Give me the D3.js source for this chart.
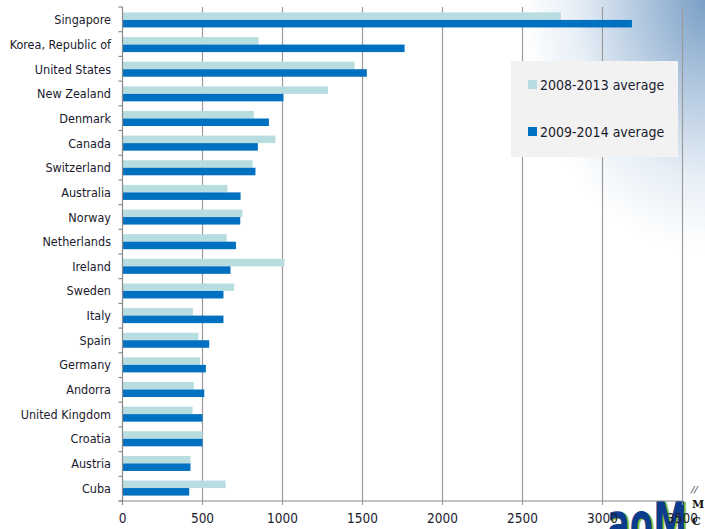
<!DOCTYPE html>
<html>
<head>
<meta charset="utf-8">
<script src="https://cdn.jsdelivr.net/npm/d3@7"></script>
<style>
  html, body { margin: 0; padding: 0; background: #fff; }
  svg { display: block; }
</style>
</head>
<body>
<svg id="chart" width="705" height="529"></svg>
<script>
const countries = ["Singapore","Korea, Republic of","United States","New Zealand","Denmark","Canada","Switzerland","Australia","Norway","Netherlands","Ireland","Sweden","Italy","Spain","Germany","Andorra","United Kingdom","Croatia","Austria","Cuba"];
const avg2008_2013 = [2740, 850, 1450, 1284, 821, 956, 813, 656, 750, 652, 1013, 698, 440, 475, 486, 446, 438, 500, 425, 644];
const avg2009_2014 = [3184, 1763, 1527, 1006, 915, 846, 831, 738, 736, 709, 675, 631, 631, 542, 521, 511, 500, 500, 425, 417];
const seriesNames = ["2008-2013 average", "2009-2014 average"];
const xTicks = [0, 500, 1000, 1500, 2000, 2500, 3000, 3500];

(function () {
const colors = ["#B7DDE1", "#0070C0"];
const svg = d3.select("#chart");
const W = 705, H = 529;
const pLeft = 122.5, pRight = 682.5, pTop = 7, pBottom = 501;

// background gradient (slide style)
const defs = svg.append("defs");
const rg = defs.append("radialGradient").attr("id", "bg")
  .attr("cx", 1).attr("cy", 0).attr("r", 1).attr("fx", 1).attr("fy", 0);
rg.append("stop").attr("offset", "0%").attr("stop-color", "#7A9FC6");
rg.append("stop").attr("offset", "20%").attr("stop-color", "#AFC6DE");
rg.append("stop").attr("offset", "42%").attr("stop-color", "#E6EEF6");
rg.append("stop").attr("offset", "60%").attr("stop-color", "#FFFFFF");
rg.append("stop").attr("offset", "100%").attr("stop-color", "#FFFFFF");
svg.append("rect").attr("width", W).attr("height", H).attr("fill", "#fff");
svg.append("rect").attr("x", 400).attr("y", 0).attr("width", 305).attr("height", 420).attr("fill", "url(#bg)");

// partial logo at bottom right (drawn behind the chart)
const logo = svg.append("g");
const big = logo.append("g").attr("transform", "translate(0,0)");
big.append("text").attr("x", 0).attr("y", 0)
  .attr("transform", "translate(689,545) scale(0.85,1.45)")
  .attr("text-anchor", "end")
  .attr("font-family", "DejaVu Sans, sans-serif").attr("font-weight", "bold")
  .attr("font-size", 40).attr("fill", "#9DC43A").text("aoM");
big.append("text").attr("x", 0).attr("y", 0)
  .attr("transform", "translate(687,544) scale(0.85,1.45)")
  .attr("text-anchor", "end")
  .attr("font-family", "DejaVu Sans, sans-serif").attr("font-weight", "bold")
  .attr("font-size", 40).attr("fill", "#0B3C8E").text("aoM");
logo.append("text").attr("x", 691).attr("y", 493).attr("font-family", "DejaVu Serif, serif")
  .attr("font-style", "italic").attr("font-size", 10).attr("fill", "#333").text("//");
logo.append("text").attr("x", 692).attr("y", 508).attr("font-family", "DejaVu Serif, serif")
  .attr("font-weight", "bold").attr("font-size", 11).attr("fill", "#111").text("M");
logo.append("text").attr("x", 692).attr("y", 525).attr("font-family", "DejaVu Serif, serif")
  .attr("font-weight", "bold").attr("font-size", 11).attr("fill", "#111").text("C");

const x = d3.scaleLinear().domain([0, 3500]).range([pLeft, pRight]);
const y = d3.scaleBand().domain(countries).range([pTop, pBottom]).paddingInner(0.39).paddingOuter(0.22);
const ySub = d3.scaleBand().domain([0, 1]).range([0, y.bandwidth()]);

// gridlines
svg.append("g").selectAll("line").data(xTicks.slice(1)).join("line")
  .attr("x1", d => x(d)).attr("x2", d => x(d))
  .attr("y1", pTop).attr("y2", pBottom + 4)
  .attr("stroke", "#9A9A9A").attr("stroke-width", 1.2);

// bars
const rows = countries.map((c, i) => ({c, v: [avg2008_2013[i], avg2009_2014[i]]}));
const g = svg.append("g");
rows.forEach(r => {
  r.v.forEach((v, k) => {
    g.append("rect")
      .attr("x", x(0))
      .attr("y", y(r.c) + ySub(k))
      .attr("width", x(v) - x(0))
      .attr("height", ySub.bandwidth())
      .attr("fill", colors[k]);
  });
});

// y axis
svg.append("line").attr("x1", pLeft).attr("x2", pLeft).attr("y1", pTop).attr("y2", pBottom + 4)
  .attr("stroke", "#8A8A8A").attr("stroke-width", 1.2);
const bounds = d3.range(countries.length + 1).map(i => pTop + i * (pBottom - pTop) / countries.length);
svg.append("g").selectAll("line").data(bounds).join("line")
  .attr("x1", pLeft - 4).attr("x2", pLeft).attr("y1", d => d).attr("y2", d => d)
  .attr("stroke", "#8A8A8A").attr("stroke-width", 1.2);
// x axis line
svg.append("line").attr("x1", pLeft - 4).attr("x2", pRight).attr("y1", pBottom).attr("y2", pBottom)
  .attr("stroke", "#8A8A8A").attr("stroke-width", 1.2);

// category labels
svg.append("g").selectAll("text").data(countries).join("text")
  .attr("x", 111).attr("y", d => y(d) + y.bandwidth() / 2)
  .attr("text-anchor", "end").attr("dominant-baseline", "central")
  .attr("font-family", "DejaVu Sans Condensed, DejaVu Sans, sans-serif")
  .attr("font-size", 12.5).attr("fill", "#1A1A2E")
  .text(d => d);

// x tick labels
svg.append("g").selectAll("text").data(xTicks).join("text")
  .attr("x", d => x(d)).attr("y", 523)
  .attr("text-anchor", "middle")
  .attr("font-family", "DejaVu Sans Condensed, DejaVu Sans, sans-serif")
  .attr("font-size", 13.5).attr("fill", "#1A1A2E")
  .text(d => d);

// legend
const lg = svg.append("g");
lg.append("rect").attr("x", 511).attr("y", 61).attr("width", 167).attr("height", 96).attr("fill", "#F2F2F2");
seriesNames.forEach((s, i) => {
  const cy = 85 + i * 47;
  lg.append("rect").attr("x", 528).attr("y", cy - 5).attr("width", 9).attr("height", 9).attr("fill", colors[i]);
  lg.append("text").attr("x", 540).attr("y", cy).attr("dominant-baseline", "central")
    .attr("font-family", "DejaVu Sans Condensed, DejaVu Sans, sans-serif")
    .attr("font-size", 14).attr("fill", "#1A1A2E").text(s);
});
})();
</script>
</body>
</html>
